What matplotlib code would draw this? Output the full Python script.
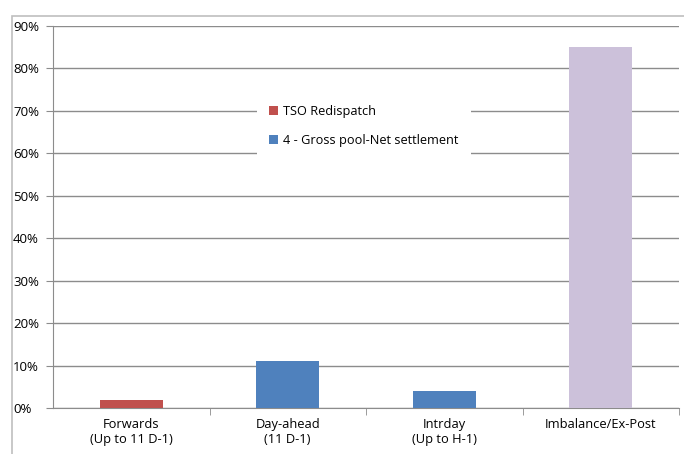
import matplotlib.pyplot as plt
from matplotlib.patches import Patch, Rectangle
from matplotlib.ticker import PercentFormatter, FixedLocator

categories = ["Forwards\n(Up to 11 D-1)", "Day-ahead\n(11 D-1)", "Intrday\n(Up to H-1)", "Imbalance/Ex-Post"]
values = [0.02, 0.11, 0.04, 0.85]
bar_colors = ["#C0504D", "#4F81BD", "#4F81BD", "#CCC1DA"]
legend_labels = ["TSO Redispatch", "4 - Gross pool-Net settlement"]
legend_colors = ["#C0504D", "#4F81BD"]

plt.rcParams['font.family'] = ['Open Sans', 'DejaVu Sans']

W, H = 684, 454
fig = plt.figure(figsize=(W / 100, H / 100), dpi=100)
ax = fig.add_axes([53 / W, 1 - 408 / H, (679 - 53) / W, (408 - 26) / H])

x = range(len(categories))
ax.bar(x, values, width=0.4, color=bar_colors, zorder=3)

ax.set_xlim(-0.5, len(categories) - 0.5)
ax.set_ylim(0, 0.9)
ax.yaxis.set_major_locator(FixedLocator([i / 10 for i in range(10)]))
ax.yaxis.set_major_formatter(PercentFormatter(1.0, decimals=0))
ax.yaxis.grid(True, color="#8C8C8C", linewidth=1, zorder=0)
ax.set_xticks(list(x))
ax.set_xticklabels(categories)
ax.set_xticks([i + 0.5 for i in range(len(categories))], minor=True)
ax.tick_params(axis="x", which="major", length=0, pad=7, labelsize=9.3, colors="black")
ax.tick_params(axis="x", which="minor", length=5, color="#8C8C8C", direction="out")
ax.tick_params(axis="y", length=5, color="#8C8C8C", labelsize=9.5, pad=0)
for t in ax.yaxis.get_major_ticks():
    t.label1.set_transform(ax.get_yaxis_transform())
    t.label1.set_horizontalalignment("left")
    t.label1.set_x(-40 / (679 - 53))

for side in ["top", "right"]:
    ax.spines[side].set_visible(False)
ax.spines["left"].set_color("#8C8C8C")
ax.spines["bottom"].set_color("#8C8C8C")

handles = [Patch(facecolor=c, edgecolor="none") for c in legend_colors]
leg = ax.legend(handles, legend_labels, loc="center", bbox_to_anchor=(364 / W, 1 - 126 / H),
                bbox_transform=fig.transFigure, frameon=True, fontsize=9.2,
                handlelength=0.7, handleheight=0.7, handletextpad=0.4,
                labelspacing=1.25, borderpad=1.0, fancybox=False)
leg.get_frame().set_edgecolor("none")
leg.get_frame().set_facecolor("white")
leg.get_frame().set_alpha(1)
leg.set_zorder(5)

# outer chart frame (cropped)
fig.add_artist(Rectangle((12 / W, -0.2), 1.2, 1 - 16 / H + 0.2, transform=fig.transFigure,
                         fill=False, edgecolor="#BFBFBF", linewidth=1.2))

fig.savefig("out.png", dpi=100)
